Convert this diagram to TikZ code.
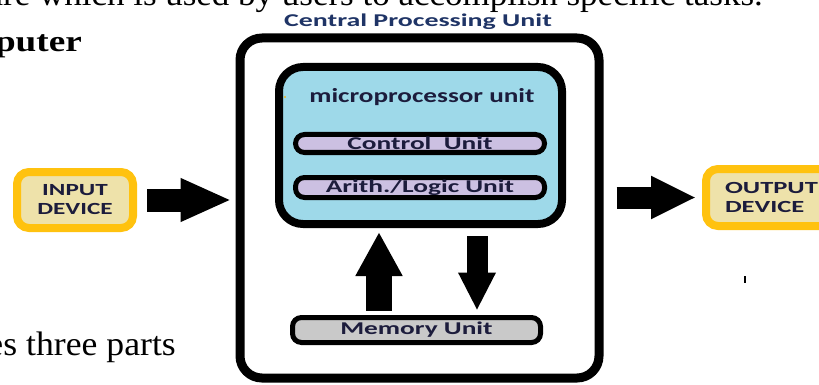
\documentclass[tikz,border=0pt]{standalone}
\usepackage{fontspec}
\usepackage{graphicx}
\setmainfont{Liberation Serif}
\newfontfamily\diagfont{Carlito}
\usetikzlibrary{arrows.meta}

\definecolor{cpublue}{HTML}{9ED9E9}
\definecolor{lavender}{HTML}{CCC0E2}
\definecolor{memgray}{HTML}{C9C9C9}
\definecolor{devfill}{HTML}{EEE2AA}
\definecolor{devgold}{HTML}{FFC20F}
\definecolor{titlenavy}{HTML}{1F3466}
\definecolor{labeldark}{HTML}{1C1C3C}

% wide lettering: stretch a text horizontally only
\newcommand\hstretch[2]{\scalebox{#1}[1]{#2}}

\tikzset{
  unitbox/.style={draw=black, line width=5pt, rounded corners=9pt, inner sep=0pt,
    text=labeldark, font=\diagfont\bfseries\fontsize{18}{18}\selectfont},
  devicebox/.style={draw=devgold, fill=devfill, line width=8pt, rounded corners=12pt,
    text=labeldark, font=\diagfont\bfseries\fontsize{17}{19}\selectfont},
  blockarrow/.style={draw=black, line cap=butt},
  pagetext/.style={inner sep=0pt, text=black},
}

\begin{document}
\begin{tikzpicture}[x=1pt, y=-1pt]
  \useasboundingbox (0,0) rectangle (819,385);
  \clip (0,0) rectangle (819,385);

  % surrounding page text
  \node[pagetext, anchor=base east, font=\fontsize{33}{33}\selectfont]
    (topline) at (763,6) {\hstretch{1.06}{ware which is used by users to accomplish specific tasks.}};
  \node[pagetext, anchor=base east, font=\bfseries\fontsize{30}{30}\selectfont]
    (heading) at (82,52) {\hstretch{1.24}{Computer}};
  \node[pagetext, anchor=base east, font=\fontsize{34}{34}\selectfont]
    (parts) at (176,355) {\hstretch{1.05}{includes three parts}};

  % central processing unit
  \node[draw=black, line width=9pt, rounded corners=22pt, minimum width=359pt,
        minimum height=340pt, inner sep=0pt] (cpu) at (419.5,208) {};
  \node[text=titlenavy, font=\diagfont\bfseries\fontsize{18}{18}\selectfont, inner sep=0pt]
    (title) at (418,22) {\hstretch{1.55}{Central Processing Unit}};

  % microprocessor unit
  \node[draw=black, fill=cpublue, line width=8pt, rounded corners=24pt,
        minimum width=283pt, minimum height=157pt, inner sep=0pt] (mpu) at (420.5,145.5) {};
  \node[text=labeldark, font=\diagfont\bfseries\fontsize{20}{20}\selectfont, inner sep=0pt]
    (mpulabel) at (422,97) {\hstretch{1.36}{microprocessor unit}};
  \fill[devgold!80!brown] (285,97) circle (1.2pt);

  \node[unitbox, fill=lavender, minimum width=249pt, minimum height=18pt]
    (ctrl) at (420,143.5) {\hstretch{1.52}{Control\ \ Unit}};
  \node[unitbox, fill=lavender, minimum width=249pt, minimum height=20pt]
    (alu) at (420,187.5) {\hstretch{1.52}{Arith./Logic Unit}};

  % memory
  \node[unitbox, fill=memgray, minimum width=248pt, minimum height=25pt]
    (mem) at (416.5,330) {\hstretch{1.52}{Memory Unit}};

  % devices
  \node[devicebox, minimum width=116pt, minimum height=56pt, align=center, inner sep=0pt]
    (inp) at (75,200) {\hstretch{1.48}{INPUT}\\\hstretch{1.48}{DEVICE}};
  \node[devicebox, minimum width=188pt, minimum height=57pt, text width=150pt,
        inner xsep=19pt, inner ysep=0pt, align=left]
    (out) at (800,197.5) {\hstretch{1.56}{OUTPUT}\\\hstretch{1.56}{DEVICE}};

  % data flow
  \coordinate (upx) at (379,0);
  \coordinate (downx) at (477,0);
  \draw[blockarrow, line width=23pt, -{Triangle[length=51pt, width=40pt]},
        shorten <=10pt, shorten >=4pt] (inp.east) -- (cpu.west |- inp.east);
  \draw[blockarrow, line width=22pt, -{Triangle[length=45pt, width=40pt]},
        shorten <=13pt, shorten >=6pt] (cpu.east |- out.west) -- (out.west);
  \draw[blockarrow, line width=26pt, -{Triangle[length=44pt, width=44pt]},
        shorten <=4.5pt, shorten >=4pt] (mem.north -| upx) -- (mpu.south -| upx);
  \draw[blockarrow, line width=21pt, -{Triangle[length=38pt, width=35pt]},
        shorten <=8pt, shorten >=4.5pt] (mpu.south -| downx) -- (mem.north -| downx);

  % stray mark
  \draw[line width=1.3pt] (745,276) -- (745,283);
\end{tikzpicture}
\end{document}
